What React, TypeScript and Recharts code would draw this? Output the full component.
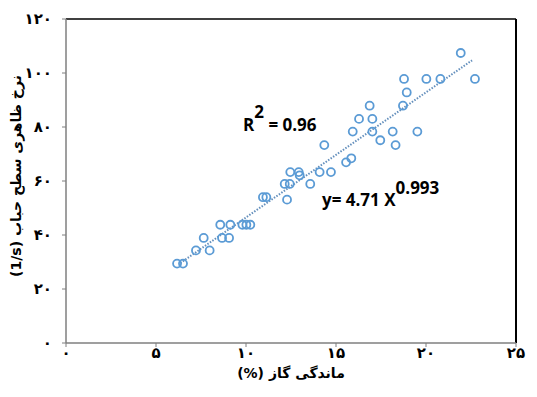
import { ScatterChart, Scatter, XAxis, YAxis, ReferenceLine } from "recharts";

// gas holdup (%) and apparent bubble surface rate (1/s)
const holdup = [
  6.17, 6.5, 7.22, 7.65, 7.98, 8.57, 8.67, 9.06, 9.13, 9.8, 10.02, 10.24,
  10.94, 11.13, 12.15, 12.28, 12.43, 12.46, 12.93, 12.98, 13.57, 14.09, 14.35,
  14.72, 15.56, 15.85, 15.93, 16.28, 16.87, 17.02, 17.02, 17.46, 18.15, 18.31,
  18.72, 18.78, 18.93, 19.52, 20.02, 20.8, 21.93, 22.72,
];
const rate = [
  29.4, 29.4, 34.3, 38.9, 34.3, 43.8, 38.9, 38.9, 43.8, 43.8, 43.8, 43.8,
  54.0, 54.0, 58.9, 53.1, 58.9, 63.3, 63.3, 62.1, 58.9, 63.3, 73.3, 63.3, 66.9,
  68.4, 78.3, 83.0, 87.9, 83.0, 78.3, 75.1, 78.3, 73.3, 87.9, 97.8, 92.8, 78.3,
  97.8, 97.8, 107.4, 97.8,
];

// power-law trend line end points
const trendX = [6.35, 22.56];
const trendY = [29.6, 104.7];

const xTicks = [0, 5, 10, 15, 20, 25];
const xTickLabels = ["۰", "۵", "۱۰", "۱۵", "۲۰", "۲۵"];
const yTicks = [0, 20, 40, 60, 80, 100, 120];
const yTickLabels = ["۰", "۲۰", "۴۰", "۶۰", "۸۰", "۱۰۰", "۱۲۰"];

const points = holdup.map((x, i) => ({ x, y: rate[i] }));
const trend = trendX.map((x, i) => ({ x, y: trendY[i] }));

const BLUE = "#5b9bd5";
const AXIS = "#7f7f7f";
const FA = "'DejaVu Sans', sans-serif";
const LAT = "'Open Sans', 'DejaVu Sans', sans-serif";

const tickStyle = { fontSize: 15, fill: "#000", fontWeight: 700, fontFamily: FA };

function Ring(props: any) {
  const { cx, cy } = props;
  if (cx == null || cy == null) return <g />;
  return <circle cx={cx} cy={cy} r={4} fill="none" stroke={BLUE} strokeWidth={1.8} />;
}

export default function App() {
  return (
    <div style={{ position: "fixed", left: 0, top: 0, width: 537, height: 397, background: "#fff" }}>
      <ScatterChart width={537} height={397} margin={{ top: 19, right: 21, left: 0, bottom: 0 }}>
        <XAxis
          type="number"
          dataKey="x"
          domain={[0, 25]}
          ticks={xTicks}
          height={54}
          axisLine={{ stroke: AXIS, strokeWidth: 1.5 }}
          tickLine={{ stroke: AXIS }}
          tickSize={4}
          tickMargin={0}
          tick={tickStyle}
          tickFormatter={(v: number) => xTickLabels[xTicks.indexOf(v)]}
        />
        <YAxis
          type="number"
          dataKey="y"
          domain={[0, 120]}
          ticks={yTicks}
          width={66}
          axisLine={{ stroke: AXIS, strokeWidth: 1.5 }}
          tickLine={{ stroke: AXIS }}
          tickSize={4}
          tickMargin={10}
          tick={tickStyle}
          tickFormatter={(v: number) => yTickLabels[yTicks.indexOf(v)]}
        />
        <ReferenceLine y={120} stroke="#000" strokeWidth={1.5} />
        <ReferenceLine x={25} stroke="#000" strokeWidth={2} />
        <Scatter
          data={trend}
          line={{ stroke: "#6590bd", strokeWidth: 2, strokeDasharray: "1.5 1.5" }}
          shape={() => <g />}
          isAnimationActive={false}
        />
        <Scatter data={points} shape={Ring} isAnimationActive={false} />
      </ScatterChart>
      <svg width={537} height={397} style={{ position: "absolute", left: 0, top: 0, pointerEvents: "none" }}>
        <text
          x={291}
          y={378}
          textAnchor="middle"
          fontFamily={FA}
          fontWeight={700}
          fontSize={14}
          direction="rtl"
          style={{ direction: "rtl", unicodeBidi: "embed" }}
        >
          {"ماندگی گاز \u2066(%)\u2069"}
        </text>
        <text
          transform="translate(21,176) rotate(-90)"
          textAnchor="middle"
          fontFamily={FA}
          fontWeight={700}
          fontSize={14}
          direction="rtl"
          style={{ direction: "rtl", unicodeBidi: "embed" }}
        >
          {"نرخ ظاهری سطح حباب  \u2066(1/s)\u2069"}
        </text>
        <text x={243} y={131} fontFamily={LAT} fontWeight={700} fontSize={17} fill="#000">
          R
          <tspan dy={-13} fontSize={17}>2</tspan>
          <tspan dy={13}> = 0.96</tspan>
        </text>
        <text x={322} y={206} fontFamily={LAT} fontWeight={700} fontSize={17} fill="#000">
          y= 4.71 X
          <tspan dy={-12} fontSize={17}>0.993</tspan>
        </text>
      </svg>
    </div>
  );
}
